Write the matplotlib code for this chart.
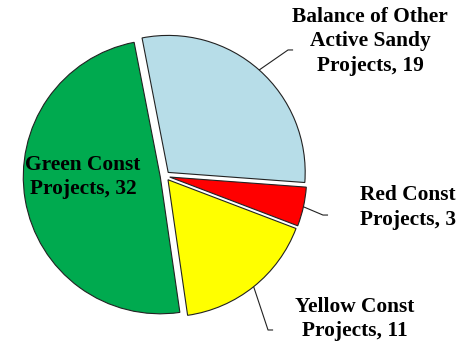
import numpy as np
import matplotlib
matplotlib.use("Agg")
import matplotlib.pyplot as plt

# Project counts by status
labels = ["Balance of Other\nActive Sandy\nProjects", "Red Const\nProjects",
          "Yellow Const\nProjects", "Green Const\nProjects"]
counts = [19, 3, 11, 32]
colors = ["#B7DDE8", "#FF0000", "#FFFF00", "#00AA4F"]

W, H = 476, 346
fig = plt.figure(figsize=(W / 100, H / 100), dpi=100)
ax = fig.add_axes([0, 0, 1, 1])

cx_px, cy_px, r_px = 165, 176, 137
explode = [0.035] * len(counts)
wedges, _ = ax.pie(counts, colors=colors, startangle=101, counterclock=False,
                   explode=explode, radius=1.0,
                   wedgeprops=dict(edgecolor="#222222", linewidth=0.8))

ax.set_xlim(-cx_px / r_px, (W - cx_px) / r_px)
ax.set_ylim(-(H - cy_px) / r_px, cy_px / r_px)
ax.set_aspect("auto")
ax.axis("off")

font = dict(family="Liberation Serif", fontweight="bold", fontsize=15.4,
            ha="center", va="center", linespacing=1.3)

# label centres and leader elbow points (axes data units)
text_pos = [(1.496, 0.985), (1.774, -0.230), (1.387, -1.044), (-0.599, -0.007)]
elbows = [(0.898, 0.920), (1.153, -0.285), (0.752, -1.124), None]
tail = 0.037

for w, lab, n, tp, el in zip(wedges, labels, counts, text_pos, elbows):
    ax.text(tp[0], tp[1], f"{lab}, {n}", **font)
    if el is None:
        continue
    mid = np.deg2rad((w.theta1 + w.theta2) / 2)
    cx, cy = w.center
    start = (cx + w.r * np.cos(mid), cy + w.r * np.sin(mid))
    ax.plot([start[0], el[0], el[0] + tail], [start[1], el[1], el[1]],
            color="#222222", linewidth=0.8, solid_capstyle="butt")

fig.savefig("out.png", dpi=100)
